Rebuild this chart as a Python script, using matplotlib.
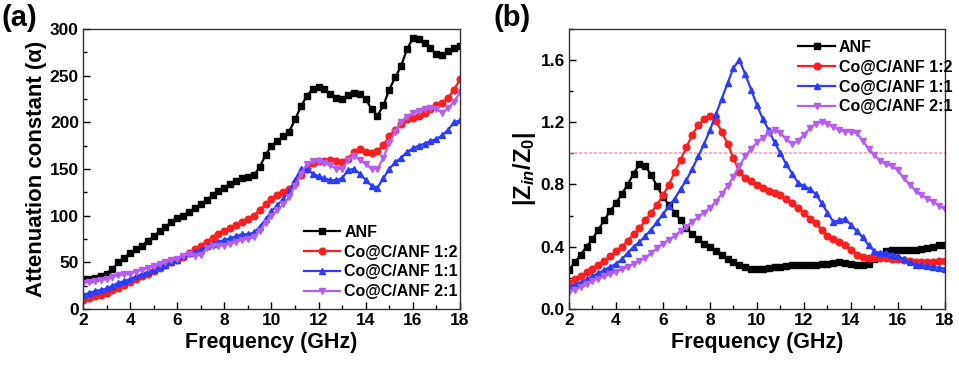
import numpy as np
import matplotlib
matplotlib.use("Agg")
import matplotlib.pyplot as plt
from matplotlib.ticker import MultipleLocator, FormatStrFormatter

plt.rcParams['font.family'] = ['Liberation Sans', 'DejaVu Sans']
plt.rcParams['font.weight'] = 'bold'
plt.rcParams['mathtext.fontset'] = 'custom'
plt.rcParams['mathtext.rm'] = 'Liberation Sans:bold'
plt.rcParams['mathtext.bf'] = 'Liberation Sans:bold'
plt.rcParams['mathtext.it'] = 'Liberation Sans:bold:italic'

freq = np.linspace(2, 18, 65)

labels = ["ANF", "Co@C/ANF 1:2", "Co@C/ANF 1:1", "Co@C/ANF 2:1"]

alpha_anf = [32, 32, 33, 35, 38, 43, 50, 55, 60, 64, 68, 73, 78, 83, 88, 93,
             97, 100, 104, 108, 112, 117, 122, 126, 130, 134, 137, 140, 141, 143, 152, 165,
             175, 180, 185, 190, 203, 217, 228, 236, 238, 236, 230, 226, 225, 229, 231, 230,
             225, 214, 207, 218, 235, 248, 260, 278, 290, 289, 285, 279, 273, 272, 276, 279, 282]
alpha_12 = [10, 12, 14, 15.5, 17, 20, 23, 26, 29, 32, 35, 38, 41, 44, 47, 50,
            53, 56, 60, 64, 68, 72, 76, 80, 84, 87, 90, 93, 96, 100, 106, 112,
            118, 122, 125, 129, 135, 143, 150, 156, 158, 159, 160, 158, 157, 161, 168, 171,
            168, 167, 169, 176, 185, 192, 198, 203, 205, 207, 210, 214, 218, 221, 226, 235, 246]
alpha_11 = [15, 17, 19, 20.5, 22, 25, 28, 30, 32, 35, 37, 40, 42, 45, 47, 50,
            53, 57, 60, 61, 63, 67, 70, 72, 74, 76, 78, 80, 80, 82, 88, 96,
            105, 111, 118, 126, 138, 150, 150, 145, 142, 140, 138, 138, 140, 149, 150, 145,
            138, 132, 130, 140, 150, 157, 162, 168, 172, 175, 177, 180, 182, 186, 192, 200, 202]
alpha_21 = [28, 29, 30, 31, 32, 34, 36, 37, 38, 40, 42, 44, 46, 48, 50, 52,
            54, 57, 59, 57, 58, 65, 68, 68, 68, 70, 72, 74, 75, 77, 84, 92,
            100, 106, 112, 120, 132, 145, 155, 158, 158, 156, 154, 150, 150, 160, 164, 160,
            155, 150, 150, 162, 178, 190, 200, 206, 210, 212, 214, 215, 214, 210, 215, 222, 232]

z_anf = [0.25, 0.30, 0.35, 0.40, 0.45, 0.51, 0.57, 0.63, 0.68, 0.74, 0.80, 0.87, 0.93, 0.92, 0.86, 0.79,
         0.72, 0.67, 0.62, 0.57, 0.52, 0.48, 0.45, 0.42, 0.40, 0.37, 0.35, 0.32, 0.30, 0.28, 0.27, 0.26,
         0.26, 0.26, 0.265, 0.27, 0.27, 0.275, 0.28, 0.28, 0.28, 0.285, 0.285, 0.29, 0.29, 0.295, 0.30, 0.295,
         0.29, 0.28, 0.28, 0.29, 0.32, 0.35, 0.37, 0.38, 0.38, 0.38, 0.38, 0.38, 0.385, 0.39, 0.40, 0.41, 0.41]
z_12 = [0.17, 0.19, 0.21, 0.235, 0.26, 0.285, 0.31, 0.34, 0.37, 0.40, 0.44, 0.48, 0.52, 0.57, 0.62, 0.67,
        0.73, 0.80, 0.88, 0.96, 1.04, 1.12, 1.18, 1.22, 1.24, 1.21, 1.14, 1.06, 0.97, 0.88, 0.84, 0.82,
        0.80, 0.78, 0.76, 0.745, 0.73, 0.71, 0.68, 0.65, 0.62, 0.58, 0.55, 0.51, 0.47, 0.45, 0.43, 0.41,
        0.38, 0.35, 0.335, 0.33, 0.33, 0.33, 0.325, 0.32, 0.32, 0.315, 0.31, 0.305, 0.30, 0.30, 0.305, 0.31, 0.31]
z_11 = [0.14, 0.155, 0.17, 0.19, 0.21, 0.23, 0.25, 0.27, 0.29, 0.32, 0.36, 0.40, 0.43, 0.47, 0.51, 0.56,
        0.61, 0.66, 0.71, 0.77, 0.83, 0.90, 0.98, 1.06, 1.15, 1.25, 1.35, 1.45, 1.55, 1.60, 1.51, 1.41,
        1.31, 1.22, 1.15, 1.07, 1.00, 0.93, 0.87, 0.81, 0.79, 0.77, 0.74, 0.68, 0.62, 0.56, 0.57, 0.58,
        0.54, 0.50, 0.46, 0.41, 0.37, 0.36, 0.36, 0.35, 0.34, 0.32, 0.30, 0.285, 0.28, 0.275, 0.27, 0.265, 0.26]
z_21 = [0.11, 0.125, 0.14, 0.16, 0.18, 0.195, 0.21, 0.225, 0.24, 0.255, 0.27, 0.29, 0.31, 0.33, 0.36, 0.39,
        0.42, 0.445, 0.47, 0.50, 0.53, 0.56, 0.59, 0.62, 0.65, 0.69, 0.74, 0.79, 0.85, 0.92, 0.98, 1.03,
        1.07, 1.10, 1.13, 1.15, 1.13, 1.09, 1.06, 1.08, 1.12, 1.16, 1.19, 1.20, 1.19, 1.17, 1.15, 1.14,
        1.14, 1.13, 1.08, 1.03, 0.99, 0.95, 0.93, 0.92, 0.89, 0.84, 0.80, 0.76, 0.73, 0.71, 0.69, 0.665, 0.64]

colors = ["#000000", "#ff1f1f", "#2a3cff", "#b65cf2"]
markers = ["s", "o", "^", "v"]

fig = plt.figure(figsize=(9.59, 3.75), dpi=100)
axA = fig.add_axes([0.0866, 0.176, 0.393, 0.747])
axB = fig.add_axes([0.5933, 0.176, 0.392, 0.747])


def style(ax, ymaj, ymin):
    ax.set_xlim(2, 18)
    ax.xaxis.set_major_locator(MultipleLocator(2))
    ax.xaxis.set_minor_locator(MultipleLocator(1))
    ax.yaxis.set_major_locator(MultipleLocator(ymaj))
    ax.yaxis.set_minor_locator(MultipleLocator(ymin))
    ax.tick_params(which='both', direction='in', top=False, right=False,
                   labelsize=12.5, width=1.0, pad=3)
    ax.tick_params(which='major', length=5)
    ax.tick_params(which='minor', length=3)
    for s in ax.spines.values():
        s.set_linewidth(1.0)
        s.set_color('#333333')
    ax.set_xlabel('Frequency (GHz)', fontsize=15.5, fontweight='bold', labelpad=3)


legend_kw = dict(frameon=False, prop={'weight': 'bold', 'size': 11.5},
                 handlelength=2.3, handletextpad=0.25, labelspacing=0.3,
                 borderaxespad=0.0, borderpad=0.0)

for ys, c, m, lab in zip([alpha_anf, alpha_12, alpha_11, alpha_21], colors, markers, labels):
    axA.plot(freq, ys, color=c, marker=m, markersize=4.8, linewidth=1.6, label=lab)
axA.set_ylim(0, 300)
style(axA, 50, 25)
axA.set_ylabel('Attenuation constant (\u03b1)', fontsize=16, fontweight='bold', labelpad=2)
axA.legend(loc='lower left', bbox_to_anchor=(0.585, 0.035), **legend_kw)

axB.axhline(1.0, color='#f4a3c3', linewidth=1.2, linestyle=(0, (2, 1)))
for ys, c, m, lab in zip([z_anf, z_12, z_11, z_21], colors, markers, labels):
    axB.plot(freq, ys, color=c, marker=m, markersize=4.8, linewidth=1.6, label=lab)
axB.set_ylim(0, 1.8)
style(axB, 0.4, 0.2)
axB.yaxis.set_major_formatter(FormatStrFormatter('%.1f'))
axB.set_ylabel(r'$|\mathrm{Z}_{\mathit{in}}/\mathrm{Z}_{0}|$', fontsize=17, labelpad=2)
axB.legend(loc='upper left', bbox_to_anchor=(0.61, 0.96), **legend_kw)

fig.text(0.002, 0.99, '(a)', fontsize=21, fontweight='bold', va='top', ha='left')
fig.text(0.515, 0.99, '(b)', fontsize=21, fontweight='bold', va='top', ha='left')

fig.savefig('out.png', dpi=100)
